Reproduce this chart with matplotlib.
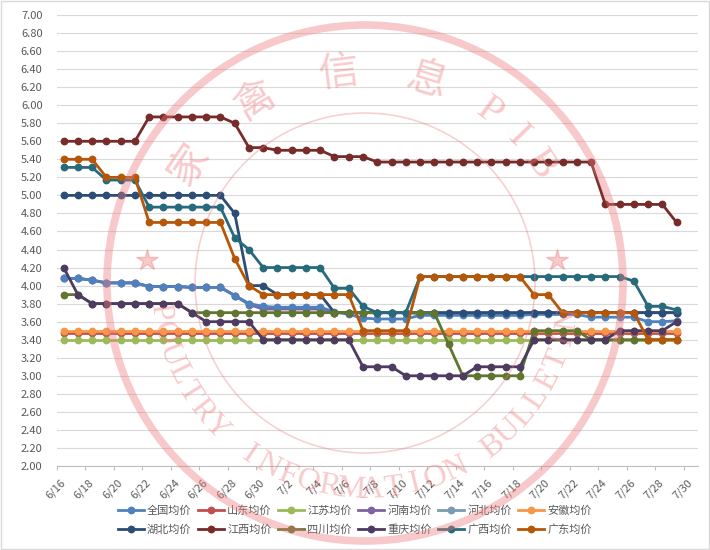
import numpy as np
import matplotlib
matplotlib.use("Agg")
import matplotlib.pyplot as plt
from matplotlib.patches import Circle, Rectangle

plt.rcParams['font.family'] = ['Noto Sans CJK SC', 'DejaVu Sans']

# categories on the x axis (6/16 .. 7/30), data runs to 7/29
dates = ['6/16', '6/17', '6/18', '6/19', '6/20', '6/21', '6/22', '6/23', '6/24',
         '6/25', '6/26', '6/27', '6/28', '6/29', '6/30', '7/1', '7/2', '7/3',
         '7/4', '7/5', '7/6', '7/7', '7/8', '7/9', '7/10', '7/11', '7/12',
         '7/13', '7/14', '7/15', '7/16', '7/17', '7/18', '7/19', '7/20', '7/21',
         '7/22', '7/23', '7/24', '7/25', '7/26', '7/27', '7/28', '7/29', '7/30']

quanguo = [4.08, 4.08, 4.06, 4.03, 4.03, 4.03, 3.99, 3.99, 3.99, 3.98, 3.98,
           3.98, 3.89, 3.80, 3.77, 3.76, 3.76, 3.76, 3.76, 3.71, 3.68, 3.64,
           3.63, 3.63, 3.63, 3.67, 3.67, 3.67, 3.67, 3.67, 3.67, 3.67, 3.67,
           3.68, 3.68, 3.68, 3.68, 3.65, 3.65, 3.65, 3.65, 3.60, 3.60, 3.61]
shandong = [3.47, 3.47, 3.47, 3.47, 3.47, 3.47, 3.47, 3.47, 3.47, 3.47, 3.47,
            3.47, 3.47, 3.47, 3.47, 3.47, 3.47, 3.47, 3.47, 3.47, 3.47, 3.47,
            3.47, 3.47, 3.47, 3.47, 3.47, 3.47, 3.47, 3.47, 3.47, 3.47, 3.47,
            3.47, 3.47, 3.47, 3.47, 3.47, 3.47, 3.47, 3.47, 3.47, 3.47, 3.47]
jiangsu = [3.40, 3.40, 3.40, 3.40, 3.40, 3.40, 3.40, 3.40, 3.40, 3.40, 3.40,
           3.40, 3.40, 3.40, 3.40, 3.40, 3.40, 3.40, 3.40, 3.40, 3.40, 3.40,
           3.40, 3.40, 3.40, 3.40, 3.40, 3.40, 3.40, 3.40, 3.40, 3.40, 3.40,
           3.40, 3.40, 3.40, 3.40, 3.40, 3.40, 3.40, 3.40, 3.40, 3.40, 3.40]
henan = [4.08, 4.08, 4.06, 4.03, 4.03, 4.03, 3.99, 3.99, 3.99, 3.98, 3.98,
         3.98, 3.89, 3.79, 3.74, 3.74, 3.74, 3.74, 3.74, 3.70, 3.70, 3.70,
         3.70, 3.70, 3.70, 3.69, 3.69, 3.69, 3.69, 3.69, 3.69, 3.69, 3.69,
         3.70, 3.70, 3.70, 3.70, 3.70, 3.70, 3.70, 3.70, 3.70, 3.70, 3.70]
hebei = [4.08, 4.08, 4.06, 4.03, 4.03, 4.03, 3.99, 3.99, 3.99, 3.98, 3.98,
         3.98, 3.89, 3.80, 3.76, 3.75, 3.75, 3.75, 3.75, 3.70, 3.70, 3.70,
         3.70, 3.70, 3.70, 3.70, 3.70, 3.70, 3.70, 3.70, 3.70, 3.70, 3.70,
         3.70, 3.70, 3.70, 3.70, 3.70, 3.70, 3.70, 3.70, 3.70, 3.70, 3.70]
anhui = [3.50, 3.50, 3.50, 3.50, 3.50, 3.50, 3.50, 3.50, 3.50, 3.50, 3.50,
         3.50, 3.50, 3.50, 3.50, 3.50, 3.50, 3.50, 3.50, 3.50, 3.50, 3.50,
         3.50, 3.50, 3.50, 3.50, 3.50, 3.50, 3.50, 3.50, 3.50, 3.50, 3.50,
         3.50, 3.50, 3.50, 3.50, 3.50, 3.50, 3.50, 3.50, 3.50, 3.50, 3.50]
hubei = [5.00, 5.00, 5.00, 5.00, 5.00, 5.00, 5.00, 5.00, 5.00, 5.00, 5.00,
         5.00, 4.80, 4.00, 4.00, 3.90, 3.90, 3.90, 3.90, 3.70, 3.70, 3.70,
         3.70, 3.70, 3.70, 3.70, 3.70, 3.70, 3.70, 3.70, 3.70, 3.70, 3.70,
         3.70, 3.70, 3.70, 3.70, 3.70, 3.70, 3.70, 3.70, 3.70, 3.70, 3.70]
jiangxi = [5.60, 5.60, 5.60, 5.60, 5.60, 5.60, 5.87, 5.87, 5.87, 5.87, 5.87,
           5.87, 5.80, 5.53, 5.53, 5.50, 5.50, 5.50, 5.50, 5.43, 5.43, 5.43,
           5.37, 5.37, 5.37, 5.37, 5.37, 5.37, 5.37, 5.37, 5.37, 5.37, 5.37,
           5.37, 5.37, 5.37, 5.37, 5.37, 4.90, 4.90, 4.90, 4.90, 4.90, 4.70]
sichuan = [3.90, 3.90, 3.80, 3.80, 3.80, 3.80, 3.80, 3.80, 3.80, 3.70, 3.70,
           3.70, 3.70, 3.70, 3.70, 3.70, 3.70, 3.70, 3.70, 3.70, 3.70, 3.70,
           3.70, 3.70, 3.70, 3.70, 3.70, 3.35, 3.00, 3.00, 3.00, 3.00, 3.00,
           3.50, 3.50, 3.50, 3.50, 3.40, 3.40, 3.40, 3.40, 3.40, 3.40, 3.40]
chongqing = [4.20, 3.90, 3.80, 3.80, 3.80, 3.80, 3.80, 3.80, 3.80, 3.70, 3.60,
             3.60, 3.60, 3.60, 3.40, 3.40, 3.40, 3.40, 3.40, 3.40, 3.40, 3.10,
             3.10, 3.10, 3.00, 3.00, 3.00, 3.00, 3.00, 3.10, 3.10, 3.10, 3.10,
             3.40, 3.40, 3.40, 3.40, 3.40, 3.40, 3.50, 3.50, 3.50, 3.50, 3.60]
guangxi = [5.31, 5.31, 5.31, 5.17, 5.17, 5.17, 4.87, 4.87, 4.87, 4.87, 4.87,
           4.87, 4.53, 4.40, 4.20, 4.20, 4.20, 4.20, 4.20, 3.97, 3.97, 3.77,
           3.70, 3.70, 3.70, 4.10, 4.10, 4.10, 4.10, 4.10, 4.10, 4.10, 4.10,
           4.10, 4.10, 4.10, 4.10, 4.10, 4.10, 4.10, 4.05, 3.77, 3.77, 3.73]
guangdong = [5.40, 5.40, 5.40, 5.20, 5.20, 5.20, 4.70, 4.70, 4.70, 4.70, 4.70,
             4.70, 4.30, 4.00, 3.90, 3.90, 3.90, 3.90, 3.90, 3.90, 3.90, 3.50,
             3.50, 3.50, 3.50, 4.10, 4.10, 4.10, 4.10, 4.10, 4.10, 4.10, 4.10,
             3.90, 3.90, 3.70, 3.70, 3.70, 3.70, 3.70, 3.70, 3.40, 3.40, 3.40]

names = ['全国均价', '山东均价', '江苏均价', '河南均价', '河北均价', '安徽均价',
         '湖北均价', '江西均价', '四川均价', '重庆均价', '广西均价', '广东均价']
series = [quanguo, shandong, jiangsu, henan, hebei, anhui,
          hubei, jiangxi, sichuan, chongqing, guangxi, guangdong]
colors = ['#4F81BD', '#C0504D', '#9BBB59', '#8064A2', '#7A9BB0', '#F79646',
          '#2C4D75', '#772C2A', '#5F7530', '#4D3B62', '#276A7C', '#B65708']
# draw order: hidden henan/hebei under the national line, rest like excel
zorders = [4, 5, 6, 2, 1, 7, 8, 9, 10, 11, 12, 13]

fig = plt.figure(figsize=(7.1, 5.5), dpi=100)
ax = fig.add_axes([56.5 / 710, 1 - 466 / 550, (698 - 56.5) / 710, (466 - 15) / 550])

handles = []
for name, vals, c, z in zip(names, series, colors, zorders):
    x = np.arange(len(vals))
    h, = ax.plot(x, vals, color=c, lw=2.0, marker='o', ms=4.6, mec=c, mfc=c,
                 label=name, zorder=z)
    handles.append(h)

ax.set_xlim(-0.5, len(dates) - 0.5)
ax.set_ylim(2.0, 7.0)
ax.set_yticks(np.arange(2.0, 7.01, 0.2))
ax.yaxis.set_major_formatter(matplotlib.ticker.FormatStrFormatter('%.2f'))
ax.grid(axis='y', color='#D9D9D9', lw=0.8)
ax.set_axisbelow(True)
for s in ['top', 'right', 'left']:
    ax.spines[s].set_visible(False)
ax.spines['bottom'].set_color('#BFBFBF')
ax.tick_params(axis='y', length=0, pad=10, labelsize=8, labelcolor='#595959')

# tick marks between categories, labels on every second date
ax.set_xticks(np.arange(-0.5, len(dates), 2))
ax.set_xticklabels([])
ax.tick_params(axis='x', which='major', length=3, color='#BFBFBF')
ax.set_xticks(np.arange(0, len(dates), 2), minor=True)
ax.set_xticklabels(dates[::2], minor=True, rotation=45, ha='right', va='center',
                   rotation_mode='anchor', fontsize=8, color='#595959')
ax.tick_params(axis='x', which='minor', length=0, pad=11)

# legend in two rows of six, filled row-wise
order = []
for k in range(6):
    order += [k, k + 6]
leg = fig.legend([handles[k] for k in order], [names[k] for k in order],
                 ncol=6, loc='center', bbox_to_anchor=(0.5, 1 - 520 / 550),
                 frameon=False, fontsize=8, handlelength=2.3, handletextpad=0.3,
                 columnspacing=0.6, labelspacing=0.75, borderpad=0)
for t in leg.get_texts():
    t.set_color('#595959')

# watermark stamp over the chart
wm = fig.add_axes([0, 0, 1, 1], zorder=20)
wm.set_xlim(0, 710)
wm.set_ylim(550, 0)
wm.axis('off')
pink = '#EE7A7E'
cx, cy = 365, 283
wm.add_patch(Circle((cx, cy), 258, fill=False, ec=pink, lw=5.5, alpha=0.4))
wm.add_patch(Circle((cx, cy), 170, fill=False, ec=pink, lw=1.2, alpha=0.35))
top_chars = [('家', 146), ('禽', 121), ('信', 97), ('息', 73), ('P', 54), ('I', 44), ('B', 34)]
for ch, a in top_chars:
    r = np.radians(a)
    wm.text(cx + 212 * np.cos(r), cy - 212 * np.sin(r), ch, rotation=a - 90,
            ha='center', va='center', fontsize=29, color=pink, alpha=0.4,
            family=['Noto Sans CJK SC', 'Liberation Serif'] if ord(ch) > 255 else 'Liberation Serif')
bottom_text = 'POULTRY INFORMATION BULLETIN'
for k, ch in enumerate(bottom_text):
    a = 188 + k * 6.0
    r = np.radians(a)
    wm.text(cx + 207 * np.cos(r), cy - 207 * np.sin(r), ch, rotation=a + 90,
            ha='center', va='center', fontsize=23, color=pink, alpha=0.4,
            family='Liberation Serif')
wm.plot([147, 557], [260, 260], ls='none', marker='*', ms=16, color=pink, alpha=0.4)

fig.add_artist(Rectangle((0.001, 0.001), 0.998, 0.998, transform=fig.transFigure,
                         fill=False, ec='#D9D9D9', lw=1))

fig.savefig('out.png', dpi=100)
